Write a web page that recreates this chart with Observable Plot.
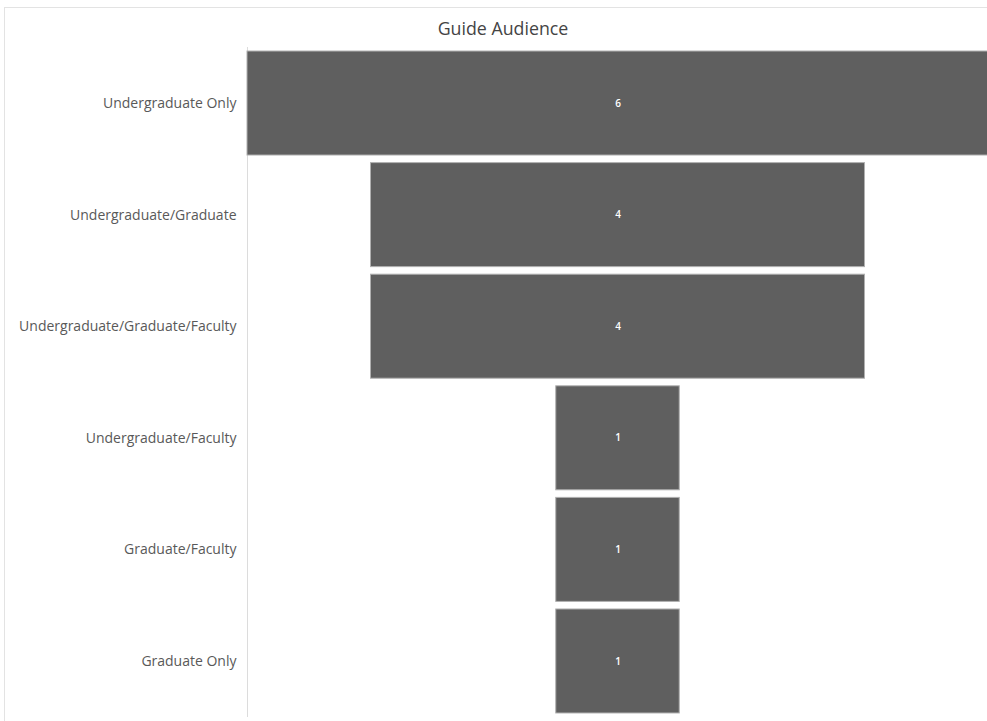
<!DOCTYPE html>
<html>
<head>
<meta charset="utf-8">
<script src="https://cdn.jsdelivr.net/npm/d3@7"></script>
<script src="https://cdn.jsdelivr.net/npm/@observablehq/plot@0.6"></script>
<style>
  html, body { margin: 0; padding: 0; background: #fff; }
  #wrap { position: relative; width: 987px; height: 721px; overflow: hidden; font-family: "Open Sans", sans-serif; }
  #frame { position: absolute; left: 4px; top: 7px; width: 990px; height: 720px; border-left: 1px solid #e3e3e3; border-top: 1px solid #e3e3e3; }
  #title { position: absolute; left: 353px; width: 300px; top: 16px; text-align: center; font-size: 17.8px; color: #444; }
  #chart { position: absolute; left: 0; top: 0; }
</style>
</head>
<body>
<div id="wrap">
  <div id="frame"></div>
  <div id="chart"></div>
  <div id="title">Guide Audience</div>
</div>
<script>
const categories = [
  "Undergraduate Only",
  "Undergraduate/Graduate",
  "Undergraduate/Graduate/Faculty",
  "Undergraduate/Faculty",
  "Graduate/Faculty",
  "Graduate Only"
];
const counts = [6, 4, 4, 1, 1, 1];

const data = categories.map((c, i) => ({category: c, value: counts[i]}));

const chart = Plot.plot({
  width: 987,
  height: 721,
  marginLeft: 247,
  marginRight: -1,
  marginTop: 47,
  marginBottom: 4,
  style: {fontFamily: "Open Sans, sans-serif", background: "transparent", overflow: "visible"},
  x: {domain: [-3, 3], axis: null},
  y: {domain: categories, paddingInner: 0.068, paddingOuter: 0.036, round: false, label: null},
  marks: [
    Plot.ruleX([-3], {stroke: "#dcdcdc", strokeWidth: 1}),
    Plot.barX(data, {
      y: "category",
      x1: d => -d.value / 2,
      x2: d => d.value / 2,
      fill: "#5f5f5f",
      stroke: "#b0b0b0",
      strokeWidth: 1
    }),
    Plot.text(data, {
      y: "category",
      x: 0,
      text: d => String(d.value),
      fill: "#ffffff",
      fontSize: 10,
      fontWeight: 600
    }),
    Plot.axisY({tickSize: 0, tickPadding: 11, fontSize: 14, color: "#595959", label: null})
  ]
});
document.getElementById("chart").appendChild(chart);
</script>
</body>
</html>
